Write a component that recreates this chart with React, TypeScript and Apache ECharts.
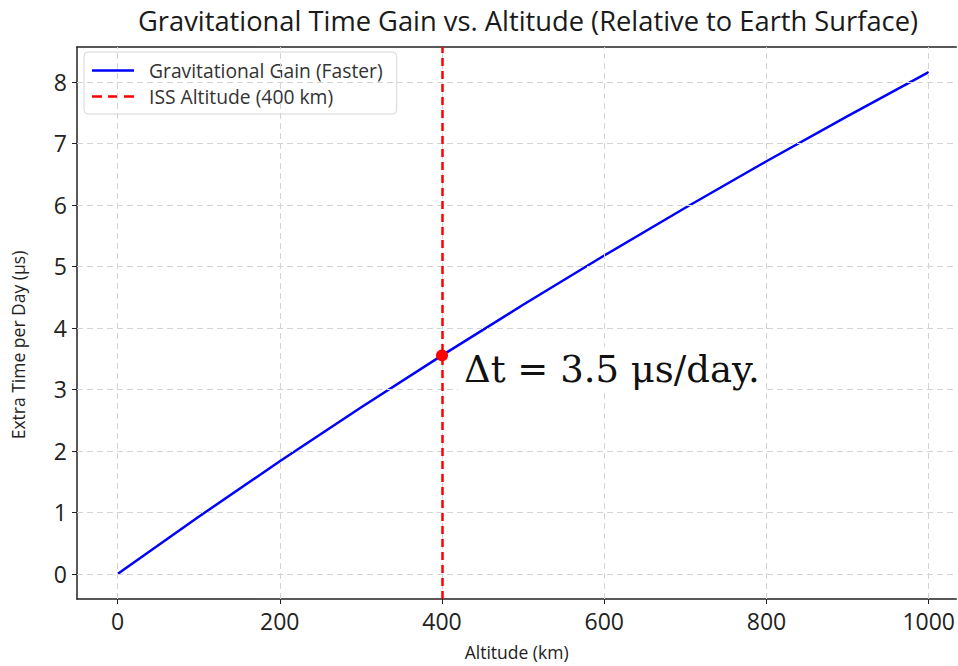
import React, { useEffect, useRef } from "react";
import * as echarts from "echarts";

const altitudes = [0, 100, 200, 300, 400, 500, 600, 700, 800, 900, 1000];
const gainUs = [0, 0.929, 1.831, 2.705, 3.553, 4.377, 5.177, 5.954, 6.71, 7.445, 8.16];
const xTicks = [0, 200, 400, 600, 800, 1000];
const yTicks = [0, 1, 2, 3, 4, 5, 6, 7, 8];
const issAltitude = 400;
const issGain = 3.553;
const annotation = "Δt = 3.5 μs/day.";

export default function App() {
  const ref = useRef<HTMLDivElement>(null);
  useEffect(() => {
    const chart = echarts.init(ref.current!, null, { renderer: "svg" });
    const font = "'Open Sans', Lato, sans-serif";
    const xBase = {
      type: "value",
      min: -50,
      max: 1034,
      interval: 50,
    };
    chart.setOption({
      animation: false,
      backgroundColor: "#ffffff",
      title: {
        text: "Gravitational Time Gain vs. Altitude (Relative to Earth Surface)",
        left: 523,
        textAlign: "center",
        top: 2,
        textStyle: { fontFamily: font, fontSize: 27.3, fontWeight: "normal", color: "#1a1a1a" },
      },
      legend: {
        left: 84,
        top: 52,
        orient: "vertical",
        itemGap: 7,
        itemWidth: 42,
        itemHeight: 22,
        padding: [9, 14, 8, 8],
        borderColor: "#d6d6d6",
        borderWidth: 1,
        borderRadius: 4,
        backgroundColor: "rgba(255,255,255,0.9)",
        textStyle: { fontFamily: font, fontSize: 19.3, color: "#333", padding: [0, 0, 0, 10] },
        data: [
          { name: "Gravitational Gain (Faster)", icon: "path://M0,10 L42,10 L42,12.6 L0,12.6 Z" },
          { name: "ISS Altitude (400 km)", icon: "path://M0,10 L10,10 L10,12.6 L0,12.6 Z M16,10 L26,10 L26,12.6 L16,12.6 Z M32,10 L42,10 L42,12.6 L32,12.6 Z" },
        ],
      },
      grid: { left: 77, right: 0, top: 47, bottom: 65, containLabel: false },
      xAxis: [
        {
          ...xBase,
          name: "Altitude (km)",
          nameLocation: "middle",
          nameGap: 44,
          nameTextStyle: { fontFamily: font, fontSize: 17.5, color: "#222" },
          axisLine: { show: true, onZero: false, lineStyle: { color: "#222", width: 1.5 } },
          axisTick: { show: true, length: 5, customValues: xTicks, lineStyle: { color: "#222" } },
          axisLabel: {
            customValues: xTicks, margin: 10,
            formatter: (v: number) => String(v),
            fontFamily: font, fontSize: 23, color: "#222",
          },
          splitLine: { show: false },
        },
        {
          ...xBase,
          position: "top",
          axisLine: { show: true, onZero: false, lineStyle: { color: "#222", width: 1.5 } },
          axisTick: { show: false },
          axisLabel: { show: false },
          splitLine: { show: false },
        },
      ],
      yAxis: {
        type: "value",
        min: -0.408,
        max: 8.568,
        name: "Extra Time per Day (μs)",
        nameLocation: "middle",
        nameGap: 50,
        nameTextStyle: { fontFamily: font, fontSize: 17.5, color: "#222", padding: [0, 44, 0, 0] },
        axisLine: { show: true, onZero: false, lineStyle: { color: "#222", width: 1.5 } },
        axisTick: { show: true, length: 5, customValues: yTicks, lineStyle: { color: "#222" } },
        axisLabel: {
          customValues: yTicks, margin: 10,
          fontFamily: font, fontSize: 23, color: "#222",
        },
        splitLine: { show: false },
      },
      series: [
        {
          name: "grid",
          type: "line",
          data: [],
          z: 1,
          silent: true,
          markLine: {
            silent: true,
            symbol: "none",
            label: { show: false },
            lineStyle: { color: "#d4d4d4", type: [6, 4], width: 1 },
            data: [
              ...xTicks.map((v) => ({ xAxis: v })),
              ...yTicks.map((v) => ({ yAxis: v })),
            ],
          },
        },
        {
          name: "Gravitational Gain (Faster)",
          type: "line",
          data: altitudes.map((a, i) => [a, gainUs[i]]),
          symbol: "none",
          lineStyle: { color: "#0000ff", width: 2.5 },
          itemStyle: { color: "#0000ff" },
          z: 3,
        },
        {
          name: "ISS Altitude (400 km)",
          type: "line",
          data: [],
          symbol: "none",
          lineStyle: { color: "#ff0000", type: [8, 5], width: 2.5 },
          itemStyle: { color: "#ff0000" },
          markLine: {
            silent: true,
            symbol: "none",
            label: { show: false },
            lineStyle: { color: "#ff0000", type: [8, 5], width: 2.5 },
            data: [{ xAxis: issAltitude }],
          },
          z: 4,
        },
        {
          name: "ISS point",
          type: "scatter",
          data: [[issAltitude, issGain]],
          symbolSize: 12,
          itemStyle: { color: "#ff0000", opacity: 1 },
          z: 5,
          silent: true,
          label: {
            show: true,
            position: "right",
            distance: 10,
            formatter: annotation,
            fontFamily: "'DejaVu Serif', 'Liberation Serif', serif",
            fontSize: 37,
            color: "#111",
            backgroundColor: "#ffffff",
            padding: [4, 6, 4, 6],
            offset: [0, 14],
          },
        },
      ],
    });
    return () => chart.dispose();
  }, []);
  return <div ref={ref} style={{ width: 958, height: 666, position: "absolute", left: 0, top: 0 }} />;
}
